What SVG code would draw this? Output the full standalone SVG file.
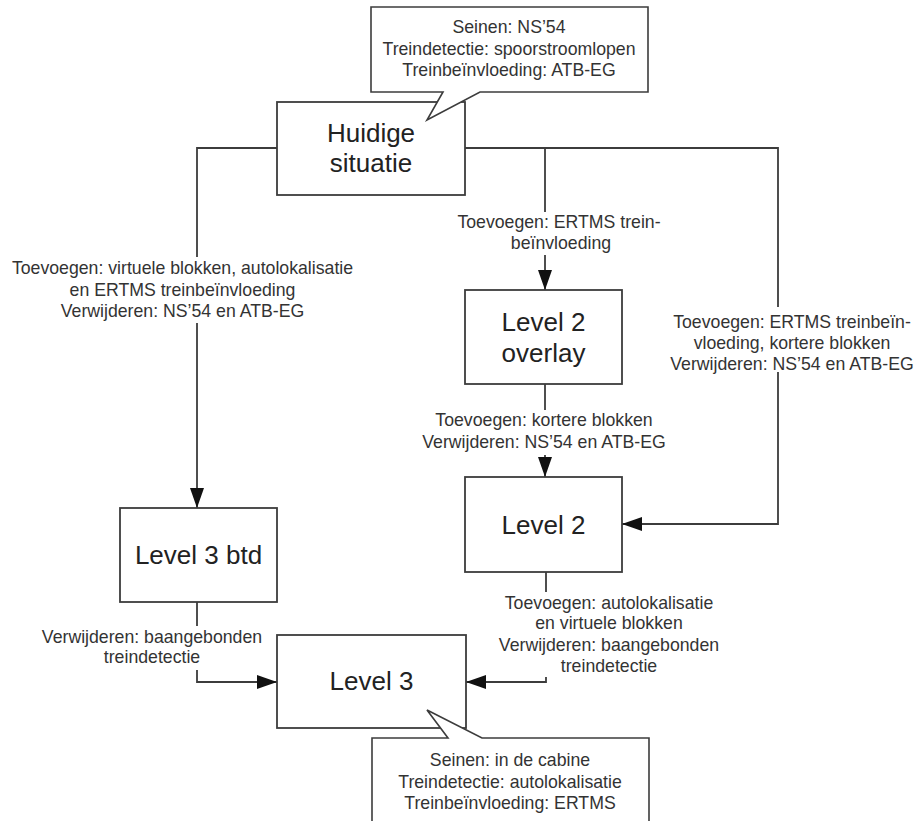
<svg xmlns="http://www.w3.org/2000/svg" width="915" height="821" viewBox="0 0 915 821">
<style>
.box{fill:#fff;stroke:#3c3c3c;stroke-width:1.8}
.call{fill:#fff;stroke:#3c3c3c;stroke-width:1.6;stroke-linejoin:miter}
.ln{fill:none;stroke:#3c3c3c;stroke-width:1.8}
.big{font-family:"Liberation Sans",Arial,sans-serif;font-size:26px;fill:#222;text-anchor:middle}
.sm{font-family:"Liberation Sans",Arial,sans-serif;font-size:17.7px;fill:#333;text-anchor:middle}
</style>
<defs>
<marker id="ah" markerUnits="userSpaceOnUse" markerWidth="20" markerHeight="14" refX="20" refY="7" orient="auto">
<path d="M0,0 L20,7 L0,14 z" fill="#111"/>
</marker>
</defs>
<rect width="915" height="821" fill="#fff"/>
<g id="connectors">
<path class="ln" d="M277,148 H197 V257"/>
<path class="ln" d="M197,323 V508" marker-end="url(#ah)"/>
<path class="ln" d="M465,148 H778 V307"/>
<path class="ln" d="M545,148 V212"/>
<path class="ln" d="M545,255 V290" marker-end="url(#ah)"/>
<path class="ln" d="M778,372 V524 H622" marker-end="url(#ah)"/>
<path class="ln" d="M545,384 V410"/>
<path class="ln" d="M545,455 V477" marker-end="url(#ah)"/>
<path class="ln" d="M546,572 V592"/>
<path class="ln" d="M546,677 V682 H466" marker-end="url(#ah)"/>
<path class="ln" d="M197,602 V626"/>
<path class="ln" d="M197,670 V682 H277" marker-end="url(#ah)"/>
</g>
<g id="labels">
<text class="sm" x="182.5" y="274">Toevoegen: virtuele blokken, autolokalisatie</text>
<text class="sm" x="182.5" y="296">en ERTMS treinbeïnvloeding</text>
<text class="sm" x="182.5" y="317">Verwijderen: NS’54 en ATB-EG</text>
<text class="sm" x="559" y="228">Toevoegen: ERTMS trein-</text>
<text class="sm" x="561" y="249">beïnvloeding</text>
<text class="sm" x="792" y="328">Toevoegen: ERTMS treinbeïn-</text>
<text class="sm" x="792" y="349">vloeding, kortere blokken</text>
<text class="sm" x="792" y="370">Verwijderen: NS’54 en ATB-EG</text>
<text class="sm" x="544" y="426">Toevoegen: kortere blokken</text>
<text class="sm" x="544" y="448">Verwijderen: NS’54 en ATB-EG</text>
<text class="sm" x="609" y="609">Toevoegen: autolokalisatie</text>
<text class="sm" x="609" y="629">en virtuele blokken</text>
<text class="sm" x="609" y="651">Verwijderen: baangebonden</text>
<text class="sm" x="609" y="672">treindetectie</text>
<text class="sm" x="152" y="643">Verwijderen: baangebonden</text>
<text class="sm" x="152" y="663">treindetectie</text>
</g>
<g id="huidige">
<rect class="box" x="277" y="102" width="188" height="93"/>
<text class="big" x="371" y="142">Huidige</text>
<text class="big" x="371" y="172">situatie</text>
</g>
<g id="callout-top">
<path class="call" d="M371,7 H648 V92 H480 L427,120 L443,92 H371 Z"/>
<text class="sm" x="509" y="33">Seinen: NS’54</text>
<text class="sm" x="509" y="55">Treindetectie: spoorstroomlopen</text>
<text class="sm" x="509" y="76">Treinbeïnvloeding: ATB-EG</text>
</g>
<g id="level2overlay">
<rect class="box" x="465" y="290" width="157" height="94"/>
<text class="big" x="543.5" y="331">Level 2</text>
<text class="big" x="543.5" y="362">overlay</text>
</g>
<g id="level2">
<rect class="box" x="465" y="477" width="157" height="95"/>
<text class="big" x="543.5" y="534">Level 2</text>
</g>
<g id="level3btd">
<rect class="box" x="120" y="508" width="157" height="94"/>
<text class="big" x="198.5" y="564">Level 3 btd</text>
</g>
<g id="level3">
<rect class="box" x="277" y="635" width="189" height="93"/>
<text class="big" x="371.5" y="690">Level 3</text>
</g>
<g id="callout-bottom">
<path class="call" d="M372,830 V738 H448 L427,710 L482,738 H649 V830"/>
<text class="sm" x="510" y="766">Seinen: in de cabine</text>
<text class="sm" x="510" y="788">Treindetectie: autolokalisatie</text>
<text class="sm" x="510" y="809">Treinbeïnvloeding: ERTMS</text>
</g>
</svg>
